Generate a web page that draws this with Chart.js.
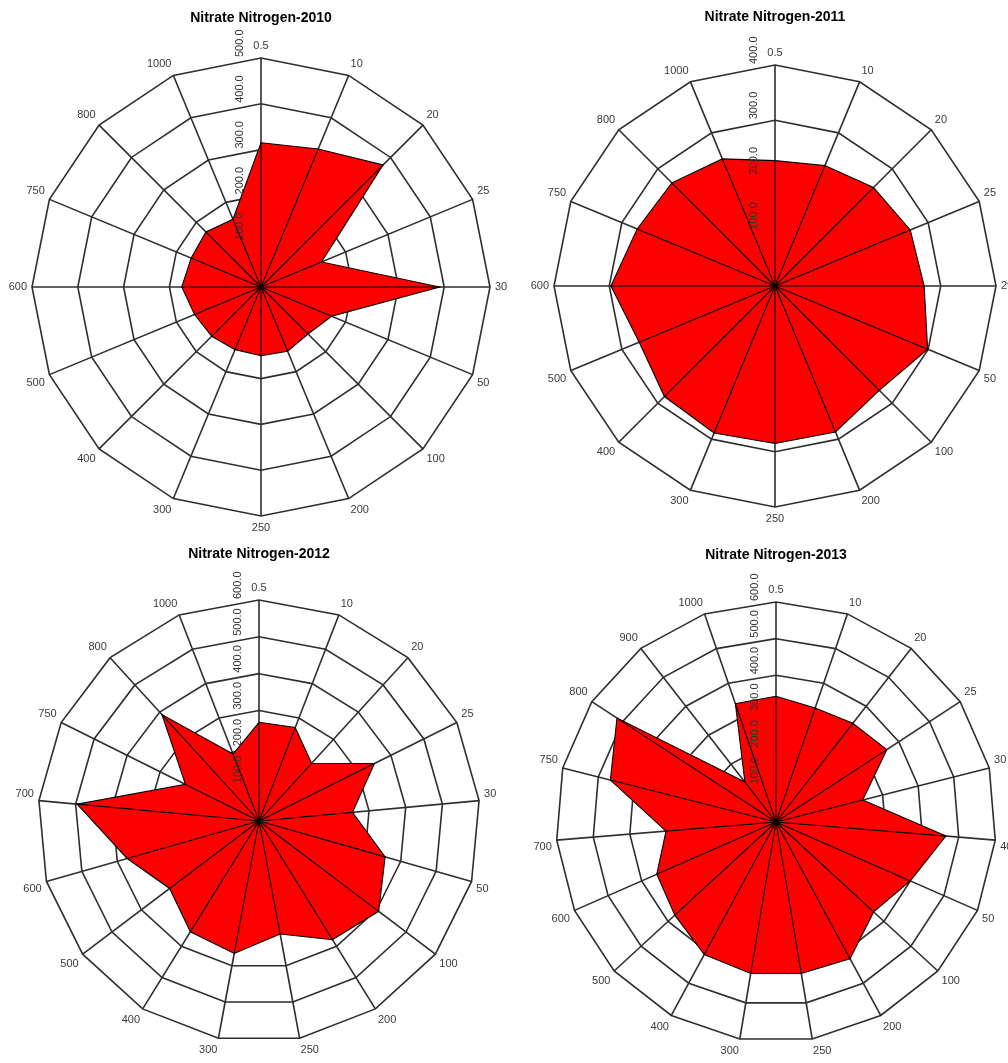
<!DOCTYPE html>
<html>
<head>
<meta charset="utf-8">
<script src="https://cdn.jsdelivr.net/npm/chart.js@4"></script>
<style>
  body { margin: 0; background: #fff; }
  #wrap { position: relative; width: 1008px; height: 1063px; overflow: hidden; background: #fff; }
  canvas { position: absolute; }
</style>
</head>
<body>
<div id="wrap">
  <canvas id="c2010" width="560" height="536" style="left:-19px;top:0px"></canvas>
  <canvas id="c2011" width="560" height="527" style="left:495px;top:0px"></canvas>
  <canvas id="c2012" width="560" height="525" style="left:-21px;top:535px"></canvas>
  <canvas id="c2013" width="560" height="523" style="left:496px;top:537px"></canvas>
</div>
<script>
// depth / class labels round each plot, clockwise from the top
var labels2010 = ['0.5','10','20','25','30','50','100','200','250','300','400','500','600','750','800','1000'];
var values2010 = [315, 326, 377, 143, 390, 167, 145, 152, 150, 148, 152, 157, 173, 165, 170, 160];
var max2010 = 500;

var labels2011 = ['0.5','10','20','25','29','50','100','200','250','300','400','500','600','750','800','1000'];
var values2011 = [227, 236, 252, 265, 270, 299, 267, 286, 285, 288, 283, 266, 297, 270, 264, 249];
var max2011 = 400;

var labels2012 = ['0.5','10','20','25','30','50','100','200','250','300','400','500','600','700','750','800','1000'];
var values2012 = [268, 272, 212, 350, 255, 356, 407, 379, 312, 366, 354, 304, 372, 496, 223, 391, 195];
var max2012 = 600;

var labels2013 = ['0.5','10','20','25','30','40','50','100','200','250','300','400','500','600','700','750','800','900','1000'];
var values2013 = [343, 329, 341, 361, 244, 465, 400, 362, 424, 419, 419, 411, 375, 355, 301, 466, 518, 138, 341];
var max2013 = 600;

var tickStep = 100;

Chart.defaults.font.family = '"Liberation Sans", Arial, sans-serif';

// radial lines to each point + rotated value labels on the vertical axis
var spokesAndTicks = {
    id: 'spokesAndTicks',
    afterDatasetsDraw: function(chart) {
        var scale = chart.scales.r;
        var ctx = chart.ctx;
        var meta = chart.getDatasetMeta(0);
        ctx.save();
        ctx.strokeStyle = '#000';
        ctx.lineWidth = 1.1;
        meta.data.forEach(function(pt) {
            ctx.beginPath();
            ctx.moveTo(scale.xCenter, scale.yCenter);
            ctx.lineTo(pt.x, pt.y);
            ctx.stroke();
        });
        ctx.beginPath();
        ctx.arc(scale.xCenter, scale.yCenter, 2.5, 0, 2 * Math.PI);
        ctx.fillStyle = '#000';
        ctx.fill();

        ctx.fillStyle = '#333';
        ctx.font = '11px "Liberation Sans", Arial, sans-serif';
        ctx.textAlign = 'left';
        ctx.textBaseline = 'middle';
        scale.ticks.forEach(function(t) {
            if (t.value <= 0) return;
            var d = scale.getDistanceFromCenterForValue(t.value);
            ctx.save();
            ctx.translate(scale.xCenter - 21, scale.yCenter - d - 1);
            ctx.rotate(-Math.PI / 2);
            ctx.fillText(t.value.toFixed(1), 0, 0);
            ctx.restore();
        });
        ctx.restore();
    }
};

function makeRadar(id, title, labels, values, maxVal, titlePad) {
    return new Chart(document.getElementById(id).getContext('2d'), {
        type: 'radar',
        data: {
            labels: labels,
            datasets: [{
                data: values,
                backgroundColor: '#ff0000',
                borderColor: '#000',
                borderWidth: 1.1,
                pointRadius: 0,
                fill: true,
                tension: 0
            }]
        },
        options: {
            responsive: false,
            animation: false,
            plugins: {
                legend: { display: false },
                tooltip: { enabled: false },
                title: {
                    display: true,
                    text: title,
                    color: '#000',
                    font: { size: 14, weight: 'bold' },
                    padding: titlePad
                }
            },
            scales: {
                r: {
                    min: 0,
                    max: maxVal,
                    ticks: { display: false, stepSize: tickStep },
                    grid: { color: '#2e2e2e', lineWidth: 1.6 },
                    angleLines: { color: '#2e2e2e', lineWidth: 1.6 },
                    pointLabels: { color: '#3a3a3a', font: { size: 11 }, padding: 5 }
                }
            }
        },
        plugins: [spokesAndTicks]
    });
}

var chart2010 = makeRadar('c2010', 'Nitrate Nitrogen-2010', labels2010, values2010, max2010, { top: 10, bottom: 13 });
var chart2011 = makeRadar('c2011', 'Nitrate Nitrogen-2011', labels2011, values2011, max2011, { top: 9, bottom: 21 });
var chart2012 = makeRadar('c2012', 'Nitrate Nitrogen-2012', labels2012, values2012, max2012, { top: 11, bottom: 17 });
var chart2013 = makeRadar('c2013', 'Nitrate Nitrogen-2013', labels2013, values2013, max2013, { top: 10, bottom: 18 });
</script>
</body>
</html>
